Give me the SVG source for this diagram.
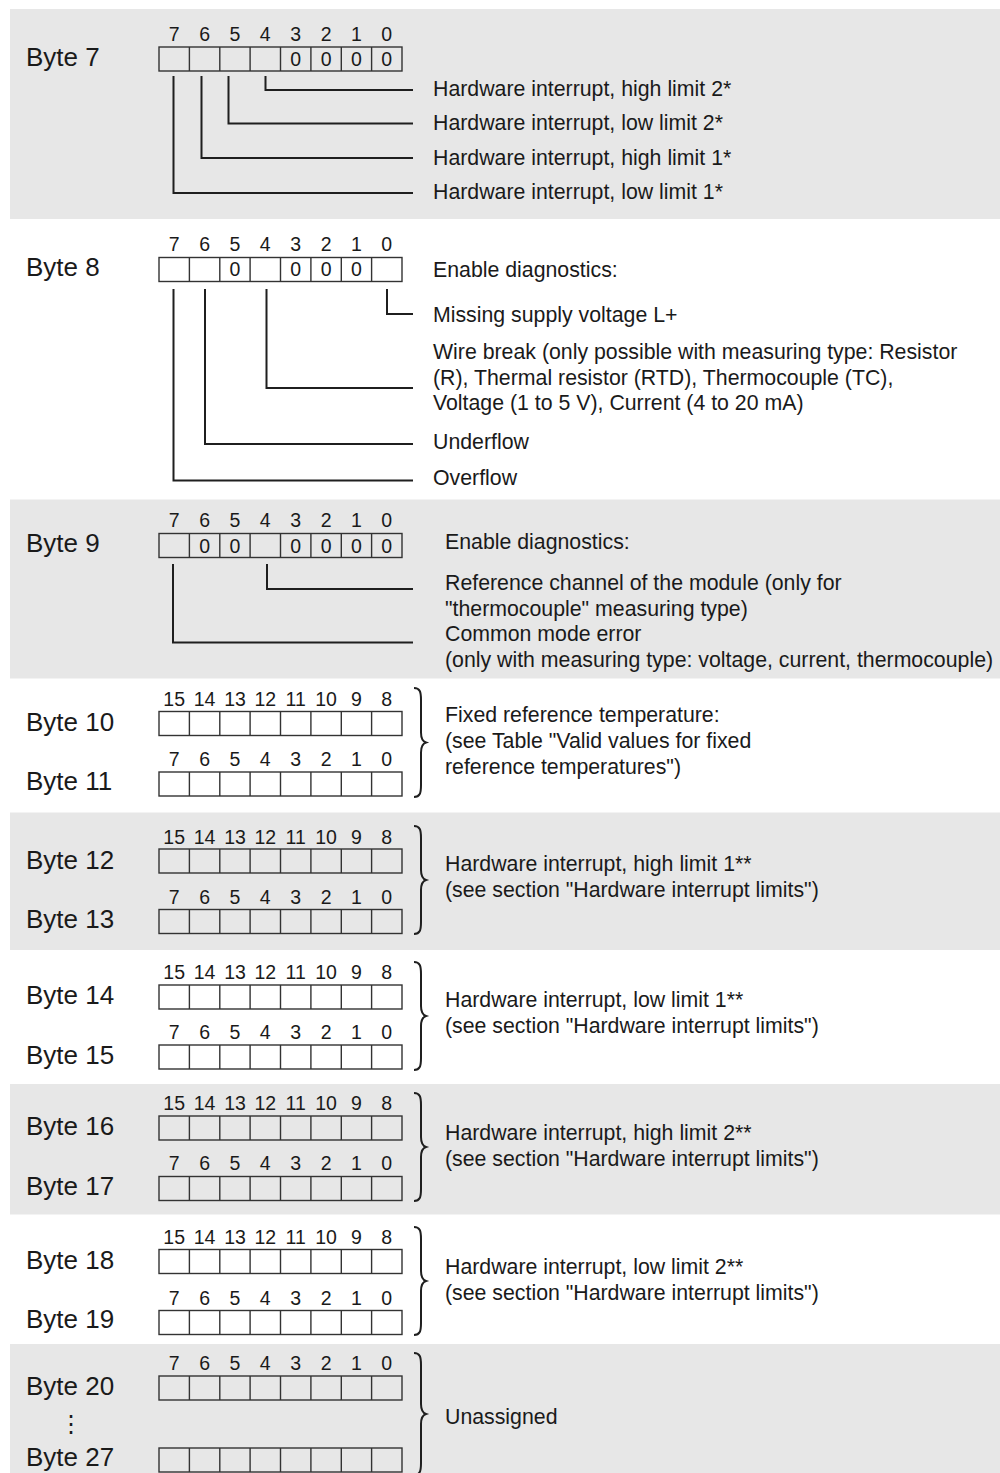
<svg xmlns="http://www.w3.org/2000/svg" width="1000" height="1473" viewBox="0 0 1000 1473">
<style>
.bg{fill:#e7e7e7}
.lbl{font-family:"Liberation Sans",Arial,sans-serif;font-size:26px;fill:#1a1a1a}
.num{font-family:"Liberation Sans",Arial,sans-serif;font-size:19.5px;fill:#1a1a1a;text-anchor:middle}
.dsc{font-family:"Liberation Sans",Arial,sans-serif;font-size:21.3px;fill:#1a1a1a}
.box{fill:none;stroke:#333;stroke-width:1.4}
.con{fill:none;stroke:#1f1f1f;stroke-width:2}
.brc{fill:none;stroke:#1f1f1f;stroke-width:2}
</style>
<defs>
<g id="row">
<rect class="box" x="159" y="0" width="243" height="24"/>
<path class="box" d="M189.4,0V24M219.8,0V24M250.1,0V24M280.5,0V24M310.9,0V24M341.3,0V24M371.6,0V24"/>
</g>
<g id="n8">
<text class="num" x="174.2">7</text><text class="num" x="204.6">6</text><text class="num" x="235">5</text><text class="num" x="265.3">4</text><text class="num" x="295.7">3</text><text class="num" x="326.1">2</text><text class="num" x="356.5">1</text><text class="num" x="386.8">0</text>
</g>
<g id="n16">
<text class="num" x="174.2">15</text><text class="num" x="204.6">14</text><text class="num" x="235">13</text><text class="num" x="265.3">12</text><text class="num" x="295.7">11</text><text class="num" x="326.1">10</text><text class="num" x="356.5">9</text><text class="num" x="386.8">8</text>
</g>
</defs>
<rect width="1000" height="1473" fill="#ffffff"/>
<g id="panels">
<rect class="bg" x="10" y="9" width="990" height="210"/>
<rect class="bg" x="10" y="499.5" width="990" height="179"/>
<rect class="bg" x="10" y="812.5" width="990" height="137.5"/>
<rect class="bg" x="10" y="1084" width="990" height="130.5"/>
<rect class="bg" x="10" y="1344" width="990" height="129"/>
</g>
<g id="byte7">
<text class="lbl" x="26" y="66">Byte 7</text>
<use href="#n8" y="41"/>
<use href="#row" y="47"/>
<text class="num" x="295.7" y="66">0</text><text class="num" x="326.1" y="66">0</text><text class="num" x="356.5" y="66">0</text><text class="num" x="386.8" y="66">0</text>
<text class="dsc" x="433" y="96">Hardware interrupt, high limit 2*</text>
<text class="dsc" x="433" y="130">Hardware interrupt, low limit 2*</text>
<text class="dsc" x="433" y="164.5">Hardware interrupt, high limit 1*</text>
<text class="dsc" x="433" y="199">Hardware interrupt, low limit 1*</text>
</g>
<g id="byte8">
<text class="lbl" x="26" y="276">Byte 8</text>
<use href="#n8" y="251"/>
<use href="#row" y="257.5"/>
<text class="num" x="235" y="276">0</text><text class="num" x="295.7" y="276">0</text><text class="num" x="326.1" y="276">0</text><text class="num" x="356.5" y="276">0</text>
<text class="dsc" x="433" y="277">Enable diagnostics:</text>
<text class="dsc" x="433" y="321.5">Missing supply voltage L+</text>
<text class="dsc" x="433" y="358.5">Wire break (only possible with measuring type: Resistor</text>
<text class="dsc" x="433" y="384.5">(R), Thermal resistor (RTD), Thermocouple (TC),</text>
<text class="dsc" x="433" y="410">Voltage (1 to 5 V), Current (4 to 20 mA)</text>
<text class="dsc" x="433" y="449">Underflow</text>
<text class="dsc" x="433" y="485">Overflow</text>
</g>
<g id="byte9">
<text class="lbl" x="26" y="552">Byte 9</text>
<use href="#n8" y="527"/>
<use href="#row" y="533.5"/>
<text class="num" x="204.6" y="552.5">0</text><text class="num" x="235" y="552.5">0</text><text class="num" x="295.7" y="552.5">0</text><text class="num" x="326.1" y="552.5">0</text><text class="num" x="356.5" y="552.5">0</text><text class="num" x="386.8" y="552.5">0</text>
<text class="dsc" x="445" y="549">Enable diagnostics:</text>
<text class="dsc" x="445" y="590">Reference channel of the module (only for</text>
<text class="dsc" x="445" y="616">"thermocouple" measuring type)</text>
<text class="dsc" x="445" y="641">Common mode error</text>
<text class="dsc" x="445" y="667">(only with measuring type: voltage, current, thermocouple)</text>
</g>
<g id="byte10-11">
<text class="lbl" x="26" y="731">Byte 10</text>
<text class="lbl" x="26" y="789.5">Byte 11</text>
<use href="#n16" y="706"/>
<use href="#row" y="711.5"/>
<use href="#n8" y="766"/>
<use href="#row" y="772"/>
<text class="dsc" x="445" y="722">Fixed reference temperature:</text>
<text class="dsc" x="445" y="748">(see Table "Valid values for fixed</text>
<text class="dsc" x="445" y="773.5">reference temperatures")</text>
</g>
<g id="byte12-13">
<text class="lbl" x="26" y="868.5">Byte 12</text>
<text class="lbl" x="26" y="927.5">Byte 13</text>
<use href="#n16" y="843.5"/>
<use href="#row" y="849"/>
<use href="#n8" y="903.5"/>
<use href="#row" y="909.5"/>
<text class="dsc" x="445" y="871">Hardware interrupt, high limit 1**</text>
<text class="dsc" x="445" y="897">(see section "Hardware interrupt limits")</text>
</g>
<g id="byte14-15">
<text class="lbl" x="26" y="1003.5">Byte 14</text>
<text class="lbl" x="26" y="1063.5">Byte 15</text>
<use href="#n16" y="978.5"/>
<use href="#row" y="985"/>
<use href="#n8" y="1038.5"/>
<use href="#row" y="1045"/>
<text class="dsc" x="445" y="1007">Hardware interrupt, low limit 1**</text>
<text class="dsc" x="445" y="1033">(see section "Hardware interrupt limits")</text>
</g>
<g id="byte16-17">
<text class="lbl" x="26" y="1135">Byte 16</text>
<text class="lbl" x="26" y="1195">Byte 17</text>
<use href="#n16" y="1110"/>
<use href="#row" y="1116"/>
<use href="#n8" y="1170"/>
<use href="#row" y="1176.5"/>
<text class="dsc" x="445" y="1140">Hardware interrupt, high limit 2**</text>
<text class="dsc" x="445" y="1166">(see section "Hardware interrupt limits")</text>
</g>
<g id="byte18-19">
<text class="lbl" x="26" y="1268.5">Byte 18</text>
<text class="lbl" x="26" y="1327.5">Byte 19</text>
<use href="#n16" y="1244"/>
<use href="#row" y="1249.5"/>
<use href="#n8" y="1304.5"/>
<use href="#row" y="1310.5"/>
<text class="dsc" x="445" y="1274">Hardware interrupt, low limit 2**</text>
<text class="dsc" x="445" y="1300">(see section "Hardware interrupt limits")</text>
</g>
<g id="byte20-27">
<text class="lbl" x="26" y="1395">Byte 20</text>
<text class="lbl" x="71" y="1432" text-anchor="middle" style="font-family:'DejaVu Sans',sans-serif;font-size:24px">⋮</text>
<text class="lbl" x="26" y="1466">Byte 27</text>
<use href="#n8" y="1370"/>
<use href="#row" y="1376"/>
<use href="#row" y="1448"/>
<text class="dsc" x="445" y="1424">Unassigned</text>
</g>
<g id="connectors">
<path class="con" d="M265.5,76V90H413"/>
<path class="con" d="M228.5,76V123.5H413"/>
<path class="con" d="M201.5,76V158H413"/>
<path class="con" d="M173.5,76V193H413"/>
<path class="con" d="M387,289V314H413"/>
<path class="con" d="M266.5,289V388H413"/>
<path class="con" d="M205,289V444H413"/>
<path class="con" d="M173.5,289V480.5H413"/>
<path class="con" d="M267,564V589H413"/>
<path class="con" d="M173,564V642.5H413"/>
<path class="brc" d="M414,688C420,688 421,692 421,700L421,732.5C421,738.5 423,741.5 426,742.5C423,743.5 421,746.5 421,752.5L421,785C421,793 420,797 414,797"/>
<path class="brc" d="M414,826C420,826 421,830 421,838L421,870C421,876 423,879 426,880C423,881 421,884 421,890L421,922C421,930 420,934 414,934"/>
<path class="brc" d="M414,962C420,962 421,966 421,974L421,1006C421,1012 423,1015 426,1016C423,1017 421,1020 421,1026L421,1058C421,1066 420,1070 414,1070"/>
<path class="brc" d="M414,1093C420,1093 421,1097 421,1105L421,1137C421,1143 423,1146 426,1147C423,1148 421,1151 421,1157L421,1189C421,1197 420,1201 414,1201"/>
<path class="brc" d="M414,1227C420,1227 421,1231 421,1239L421,1271C421,1277 423,1280 426,1281C423,1282 421,1285 421,1291L421,1323C421,1331 420,1335 414,1335"/>
<path class="brc" d="M414,1353C420,1353 421,1357 421,1365L421,1404C421,1410 423,1413 426,1414C423,1415 421,1418 421,1424L421,1463C421,1471 420,1475 414,1475"/>
</g>
</svg>
